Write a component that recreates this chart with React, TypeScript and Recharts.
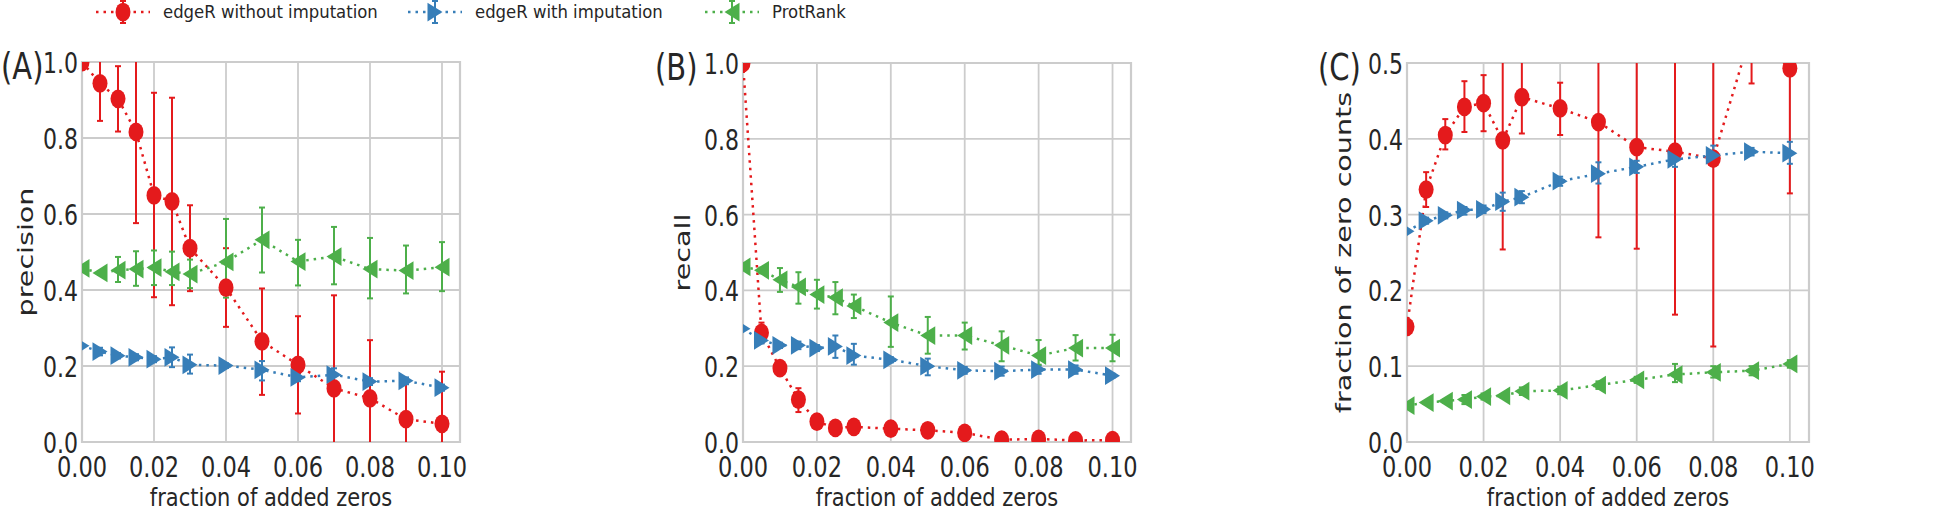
import React from 'react';
import {
  CartesianGrid,
  ComposedChart,
  ErrorBar,
  Label,
  Line,
  ReferenceArea,
  XAxis,
  YAxis,
} from 'recharts';

// fraction of added zeros (shared x values)
const fractions = [0, 0.005, 0.01, 0.015, 0.02, 0.025, 0.03, 0.04, 0.05, 0.06, 0.07, 0.08, 0.09, 0.1];

// (A) precision
const precNoImp = [1.0, 0.944, 0.903, 0.816, 0.649, 0.633, 0.51, 0.406, 0.265, 0.203, 0.141, 0.115, 0.06, 0.048];
const precNoImpLo = [1.0, 0.845, 0.817, 0.576, 0.381, 0.36, 0.397, 0.303, 0.124, 0.075, -0.1, -0.05, -0.05, -0.1];
const precNoImpHi = [1.0, 1.04, 0.989, 1.06, 0.919, 0.906, 0.623, 0.51, 0.404, 0.331, 0.386, 0.268, 0.165, 0.185];
const precImp = [0.253, 0.238, 0.227, 0.223, 0.218, 0.223, 0.203, 0.201, 0.19, 0.17, 0.177, 0.159, 0.161, 0.143];
const precImpLo = [0.253, 0.228, 0.22, 0.215, 0.21, 0.197, 0.18, 0.195, 0.162, 0.16, 0.16, 0.15, 0.152, 0.135];
const precImpHi = [0.253, 0.248, 0.234, 0.231, 0.226, 0.249, 0.23, 0.207, 0.213, 0.18, 0.194, 0.168, 0.17, 0.151];
const precProt = [0.457, 0.445, 0.452, 0.455, 0.459, 0.448, 0.442, 0.474, 0.532, 0.475, 0.488, 0.455, 0.451, 0.46];
const precProtLo = [0.457, 0.44, 0.421, 0.411, 0.413, 0.413, 0.405, 0.38, 0.446, 0.412, 0.415, 0.378, 0.391, 0.397];
const precProtHi = [0.457, 0.45, 0.487, 0.502, 0.504, 0.501, 0.48, 0.587, 0.617, 0.532, 0.566, 0.537, 0.517, 0.526];

// (B) recall
const recNoImp = [1.0, 0.288, 0.195, 0.112, 0.054, 0.037, 0.04, 0.035, 0.031, 0.024, 0.006, 0.008, 0.004, 0.005];
const recNoImpLo = [1.0, 0.262, 0.19, 0.079, 0.045, 0.03, 0.035, 0.03, 0.026, 0.019, 0.002, 0.004, 0.001, 0.002];
const recNoImpHi = [1.0, 0.315, 0.2, 0.142, 0.065, 0.044, 0.045, 0.04, 0.036, 0.029, 0.01, 0.012, 0.007, 0.008];
const recImp = [0.299, 0.268, 0.255, 0.255, 0.248, 0.252, 0.228, 0.217, 0.2, 0.189, 0.187, 0.191, 0.191, 0.175];
const recImpLo = [0.299, 0.26, 0.248, 0.245, 0.24, 0.222, 0.204, 0.21, 0.176, 0.18, 0.175, 0.18, 0.18, 0.17];
const recImpHi = [0.299, 0.276, 0.262, 0.265, 0.256, 0.281, 0.259, 0.224, 0.22, 0.198, 0.199, 0.202, 0.202, 0.18];
const recProt = [0.462, 0.453, 0.428, 0.409, 0.389, 0.381, 0.359, 0.315, 0.281, 0.281, 0.255, 0.228, 0.248, 0.248];
const recProtLo = [0.462, 0.445, 0.396, 0.365, 0.352, 0.337, 0.327, 0.251, 0.233, 0.244, 0.213, 0.204, 0.215, 0.213];
const recProtHi = [0.462, 0.46, 0.459, 0.448, 0.428, 0.422, 0.389, 0.384, 0.33, 0.315, 0.292, 0.269, 0.282, 0.283];

// (C) fraction of zero counts
const zeroNoImp = [0.152, 0.333, 0.405, 0.442, 0.447, 0.398, 0.455, 0.44, 0.422, 0.389, 0.383, 0.374, 0.542, 0.493];
const zeroNoImpLo = [0.152, 0.31, 0.386, 0.409, 0.41, 0.254, 0.407, 0.405, 0.27, 0.255, 0.168, 0.126, 0.473, 0.328];
const zeroNoImpHi = [0.152, 0.356, 0.426, 0.476, 0.484, 0.54, 0.53, 0.474, 0.574, 0.52, 0.6, 0.62, 0.61, 0.66];
const zeroImp = [0.278, 0.292, 0.299, 0.306, 0.307, 0.317, 0.323, 0.344, 0.354, 0.363, 0.373, 0.378, 0.383, 0.381];
const zeroImpLo = [0.278, 0.288, 0.295, 0.3, 0.302, 0.305, 0.315, 0.338, 0.341, 0.355, 0.363, 0.37, 0.378, 0.367];
const zeroImpHi = [0.278, 0.296, 0.303, 0.31, 0.312, 0.329, 0.331, 0.35, 0.369, 0.371, 0.383, 0.391, 0.388, 0.396];
const zeroProt = [0.048, 0.052, 0.054, 0.056, 0.06, 0.061, 0.067, 0.068, 0.075, 0.082, 0.089, 0.092, 0.094, 0.103];
const zeroProtLo = [0.048, 0.05, 0.052, 0.05, 0.056, 0.059, 0.062, 0.063, 0.07, 0.078, 0.079, 0.085, 0.088, 0.098];
const zeroProtHi = [0.048, 0.054, 0.056, 0.062, 0.064, 0.063, 0.072, 0.073, 0.08, 0.086, 0.103, 0.1, 0.1, 0.108];

const xTicks = [0, 0.02, 0.04, 0.06, 0.08, 0.1];
const yTicksUnit = [0, 0.2, 0.4, 0.6, 0.8, 1.0];
const yTicksHalf = [0, 0.1, 0.2, 0.3, 0.4, 0.5];

const RED = '#e41a1c';
const BLUE = '#377eb8';
const GREEN = '#4daf4a';
const GRID = '#cccccc';
const INK = '#262626';
const FONT = '"DejaVu Sans", Verdana, sans-serif';
const TICK_STRETCH = 1.25; // the source figure is stretched vertically
const TITLE_STRETCH = 1.15;
const MARK = 7.5;
const MARK_Y = MARK * 1.25;
const AXIS_W = 70;
const AXIS_H = 66;

function buildRows(
  series: { key: string; mean: number[]; lo: number[]; hi: number[] }[],
) {
  return fractions.map((x, i) => {
    const row: Record<string, number | number[]> = { x };
    for (const s of series) {
      row[s.key] = s.mean[i];
      row[s.key + 'Err'] = [s.mean[i] - s.lo[i], s.hi[i] - s.mean[i]];
    }
    return row;
  });
}

function circleDot(props: any) {
  const { cx, cy, index } = props;
  if (cx == null || cy == null) return <g key={index} />;
  return <ellipse key={index} cx={cx} cy={cy} rx={MARK} ry={MARK_Y} fill={RED} />;
}

function triangle(cx: number, cy: number, dir: 1 | -1, fill: string, key?: number) {
  const r = MARK;
  const pts = `${cx + dir * r},${cy} ${cx - dir * r},${cy - MARK_Y} ${cx - dir * r},${cy + MARK_Y}`;
  return <polygon key={key} points={pts} fill={fill} />;
}

function rightDot(props: any) {
  const { cx, cy, index } = props;
  if (cx == null || cy == null) return <g key={index} />;
  return triangle(cx, cy, 1, BLUE, index);
}

function leftDot(props: any) {
  const { cx, cy, index } = props;
  if (cx == null || cy == null) return <g key={index} />;
  return triangle(cx, cy, -1, GREEN, index);
}

function XTick(props: any) {
  const { x, y, payload } = props;
  return (
    <g transform={`translate(${x},${y + 35}) scale(1,${TICK_STRETCH})`}>
      <text textAnchor="middle" fontFamily={FONT} fontSize={22.5} fill={INK}>
        {Number(payload.value).toFixed(2)}
      </text>
    </g>
  );
}

function YTick(props: any) {
  const { x, y, payload } = props;
  return (
    <g transform={`translate(${x - 4},${y + 1}) scale(1,${TICK_STRETCH})`}>
      <text textAnchor="end" dy="0.36em" fontFamily={FONT} fontSize={22} fill={INK}>
        {Number(payload.value).toFixed(1)}
      </text>
    </g>
  );
}

const series = [
  { key: 'noImp', color: RED, dot: circleDot },
  { key: 'imp', color: BLUE, dot: rightDot },
  { key: 'prot', color: GREEN, dot: leftDot },
];

function Panel({
  id,
  left,
  width,
  plot,
  rows,
  yMax,
  yTicks,
  yTitle,
  titleDx,
  letter,
  letterDx,
}: {
  id: string;
  left: number;
  width: number;
  plot: { x: number; y: number; w: number; h: number };
  rows: Record<string, number | number[]>[];
  yMax: number;
  yTicks: number[];
  yTitle: string;
  titleDx: number;
  letter: string;
  letterDx: number;
}) {
  const margin = {
    top: plot.y,
    left: plot.x - AXIS_W,
    right: width - plot.x - plot.w,
    bottom: 512 - plot.y - plot.h - AXIS_H,
  };
  const clipId = `plotclip-${id}`;
  return (
    <div className={`panel-${id}`} style={{ position: 'absolute', left, top: 0 }}>
      <style>{`.panel-${id} .recharts-line, .panel-${id} .recharts-errorBars, .panel-${id} .recharts-errorBar, .panel-${id} .recharts-line-dots { clip-path: url(#${clipId}); }`}</style>
      <svg width={0} height={0} style={{ position: 'absolute' }}>
        <defs>
          <clipPath id={clipId} clipPathUnits="userSpaceOnUse">
            <rect x={plot.x} y={plot.y} width={plot.w} height={plot.h} />
          </clipPath>
        </defs>
      </svg>
      <ComposedChart width={width} height={512} data={rows} margin={margin}>
        <CartesianGrid stroke={GRID} strokeWidth={1.8} />
        <ReferenceArea
          x1={0}
          x2={0.105}
          y1={0}
          y2={yMax}
          fill="none"
          stroke={GRID}
          strokeWidth={2.2}
        />
        <XAxis
          type="number"
          dataKey="x"
          domain={[0, 0.105]}
          ticks={xTicks}
          interval={0}
          allowDataOverflow
          axisLine={false}
          tickLine={false}
          tickSize={0}
          tickMargin={0}
          height={AXIS_H}
          tick={(p: any) => <XTick {...p} />}
        >
          <Label
            content={(p: any) => {
              const vb = p.viewBox;
              return (
                <g transform={`translate(${vb.x + vb.width / 2},${vb.y + 64}) scale(1,${TITLE_STRETCH})`}>
                  <text textAnchor="middle" fontFamily={FONT} fontSize={21} fill={INK}>
                    fraction of added zeros
                  </text>
                </g>
              );
            }}
          />
        </XAxis>
        <YAxis
          type="number"
          domain={[0, yMax]}
          ticks={yTicks}
          interval={0}
          allowDataOverflow
          axisLine={false}
          tickLine={false}
          tickSize={0}
          tickMargin={0}
          width={AXIS_W}
          tick={(p: any) => <YTick {...p} />}
        >
          <Label
            content={(p: any) => {
              const vb = p.viewBox;
              const px = vb.x + vb.width;
              const cy = vb.y + vb.height / 2;
              return (
                <g>
                  <g transform={`translate(${px + titleDx},${cy}) rotate(-90) scale(1.3,1)`}>
                    <text textAnchor="middle" dy="0.36em" fontFamily={FONT} fontSize={22} fill={INK}>
                      {yTitle}
                    </text>
                  </g>
                  <g transform={`translate(${px + letterDx},${vb.y + 17}) scale(1,1.3)`}>
                    <text textAnchor="start" fontFamily={FONT} fontSize={29} fill={INK}>
                      {letter}
                    </text>
                  </g>
                </g>
              );
            }}
          />
        </YAxis>
        {series.map((s) => (
          <Line
            key={s.key}
            type="linear"
            dataKey={s.key}
            stroke={s.color}
            strokeWidth={2.5}
            strokeDasharray="2.5 5"
            dot={s.dot}
            activeDot={false}
            isAnimationActive={false}
          >
            <ErrorBar
              dataKey={s.key + 'Err'}
              direction="y"
              width={3}
              stroke={s.color}
              strokeWidth={2}
              isAnimationActive={false}
            />
          </Line>
        ))}
      </ComposedChart>
    </div>
  );
}

function LegendEntry({ x, color, label, kind }: { x: number; color: string; label: string; kind: 'o' | '>' | '<' }) {
  const cy = 12;
  const m = x + 27;
  return (
    <g>
      <line x1={x} y1={cy} x2={x + 54} y2={cy} stroke={color} strokeWidth={2.5} strokeDasharray="2.5 5" />
      <line x1={m} y1={cy - 11} x2={m} y2={cy + 11} stroke={color} strokeWidth={2} />
      <line x1={m - 3} y1={cy - 11} x2={m + 3} y2={cy - 11} stroke={color} strokeWidth={2} />
      <line x1={m - 3} y1={cy + 11} x2={m + 3} y2={cy + 11} stroke={color} strokeWidth={2} />
      {kind === 'o' ? (
        <ellipse cx={m} cy={cy} rx={MARK} ry={MARK_Y} fill={color} />
      ) : (
        triangle(m, cy, kind === '>' ? 1 : -1, color)
      )}
      <g transform={`translate(${x + 67},${cy + 6}) scale(1,1.08)`}>
        <text fontFamily={FONT} fontSize={16.5} fill={INK}>
          {label}
        </text>
      </g>
    </g>
  );
}

export default function App() {
  const rowsA = buildRows([
    { key: 'noImp', mean: precNoImp, lo: precNoImpLo, hi: precNoImpHi },
    { key: 'imp', mean: precImp, lo: precImpLo, hi: precImpHi },
    { key: 'prot', mean: precProt, lo: precProtLo, hi: precProtHi },
  ]);
  const rowsB = buildRows([
    { key: 'noImp', mean: recNoImp, lo: recNoImpLo, hi: recNoImpHi },
    { key: 'imp', mean: recImp, lo: recImpLo, hi: recImpHi },
    { key: 'prot', mean: recProt, lo: recProtLo, hi: recProtHi },
  ]);
  const rowsC = buildRows([
    { key: 'noImp', mean: zeroNoImp, lo: zeroNoImpLo, hi: zeroNoImpHi },
    { key: 'imp', mean: zeroImp, lo: zeroImpLo, hi: zeroImpHi },
    { key: 'prot', mean: zeroProt, lo: zeroProtLo, hi: zeroProtHi },
  ]);

  return (
    <div
      style={{
        position: 'absolute',
        left: 0,
        top: 0,
        width: 1946,
        height: 512,
        background: '#fff',
        overflow: 'hidden',
      }}
    >
      <Panel
        id="a"
        left={0}
        width={640}
        plot={{ x: 82, y: 62, w: 378, h: 380 }}
        rows={rowsA}
        yMax={1}
        yTicks={yTicksUnit}
        yTitle="precision"
        titleDx={-57}
        letter="(A)"
        letterDx={-81}
      />
      <Panel
        id="b"
        left={640}
        width={650}
        plot={{ x: 103, y: 63, w: 388, h: 379 }}
        rows={rowsB}
        yMax={1}
        yTicks={yTicksUnit}
        yTitle="recall"
        titleDx={-61}
        letter="(B)"
        letterDx={-88}
      />
      <Panel
        id="c"
        left={1290}
        width={656}
        plot={{ x: 117, y: 63, w: 402, h: 379 }}
        rows={rowsC}
        yMax={0.5}
        yTicks={yTicksHalf}
        yTitle="fraction of zero counts"
        titleDx={-64}
        letter="(C)"
        letterDx={-89}
      />
      <svg width={1946} height={30} style={{ position: 'absolute', left: 0, top: 0 }}>
        <LegendEntry x={96} color={RED} label="edgeR without imputation" kind="o" />
        <LegendEntry x={408} color={BLUE} label="edgeR with imputation" kind=">" />
        <LegendEntry x={705} color={GREEN} label="ProtRank" kind="<" />
      </svg>
    </div>
  );
}
